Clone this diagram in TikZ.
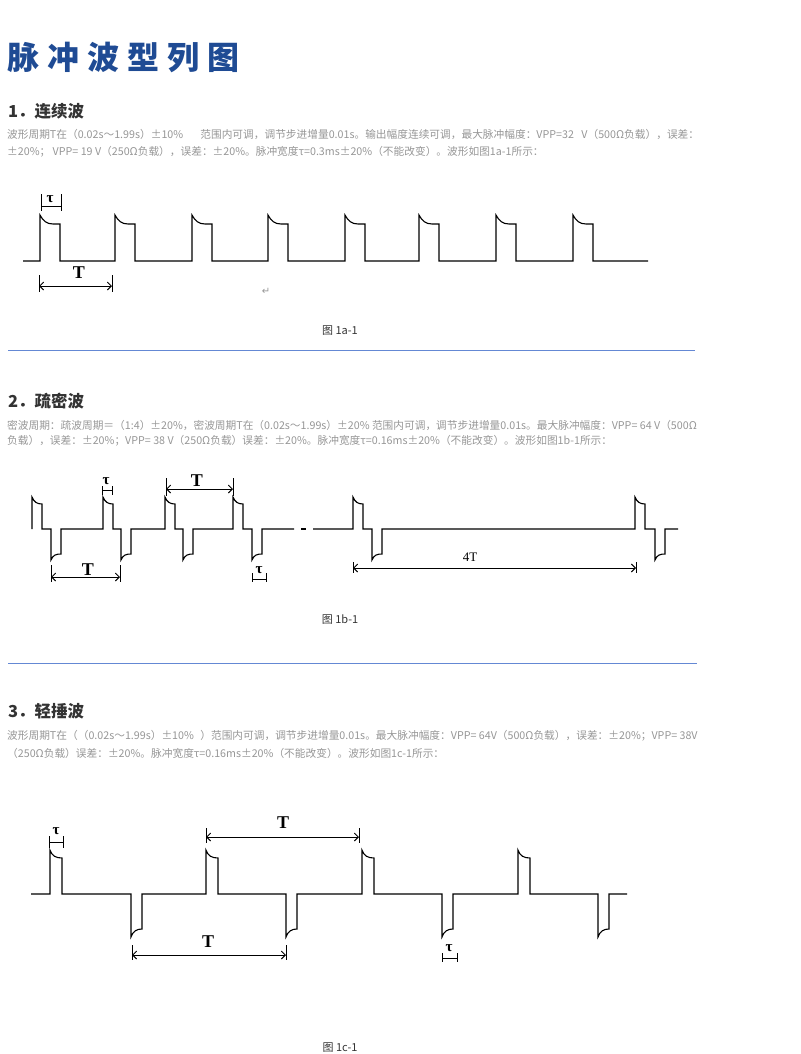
\documentclass[tikz,border=0pt]{standalone}
\usepackage{fontspec}
\usepackage{xcolor}
\usetikzlibrary{arrows.meta,positioning}
\newfontfamily\cjk{Noto Sans CJK SC}
\newfontfamily\tnr{Liberation Serif}
\newfontfamily\symfont{DejaVu Sans}
\definecolor{titleblue}{RGB}{31,75,148}
\definecolor{headgray}{RGB}{51,51,51}
\definecolor{bodygray}{RGB}{150,150,150}
\definecolor{ruleblue}{RGB}{100,136,212}

\begin{document}
\begin{tikzpicture}[
  x=1pt, y=-1pt,
  wave/.style={line width=1.1pt, line join=miter},
  tick/.style={line width=0.9pt},
  dimline/.style={line width=0.9pt,
    {Straight Barb[length=4pt,width=8pt]}-{Straight Barb[length=4pt,width=8pt]}},
  tauline/.style={line width=0.9pt},
  body/.style={anchor=west, inner sep=0pt, text=bodygray,
    font=\cjk\fontsize{10.7}{13}\selectfont},
  heading/.style={anchor=west, inner sep=0pt, text=headgray,
    font=\cjk\bfseries\fontsize{16.5}{18}\selectfont},
  caption/.style={inner sep=0pt, text=headgray,
    font=\cjk\fontsize{11}{13}\selectfont},
  bigT/.style={inner sep=0pt, font=\tnr\bfseries\fontsize{18}{18}\selectfont},
  smallT/.style={inner sep=0pt, font=\tnr\fontsize{13}{13}\selectfont},
  taulabel/.style={inner sep=0pt, font=\tnr\bfseries\fontsize{15}{15}\selectfont},
  rule/.style={draw=ruleblue, line width=1pt},
]
\useasboundingbox (0,0) rectangle (800,1054);

% title
\node[anchor=west, inner sep=0pt, text=titleblue,
  font=\cjk\bfseries\fontsize{32}{35}\selectfont\addfontfeatures{LetterSpace=25}]
  (title) at (7,57) {脉冲波型列图};

% ---------- 1
\node[heading] (head1) at (8,111) {1．连续波};
\node[body] (par1a) at (7,134) {波形周期T在（0.02s～1.99s）±10\%\hspace{1.6em}范围内可调，调节步进增量0.01s。输出幅度连续可调，最大脉冲幅度：VPP=32\hspace{0.7em}V（500Ω负载），误差：};
\node[body] (par1b) at (7,152) {±20\%；\ VPP=\ 19 V（250Ω负载），误差：±20\%。脉冲宽度τ=0.3ms±20\%（不能改变）。波形如图1a-1所示：};

\draw[wave] (23,261)
  foreach \p in {40,115,192,268,345,419,496,573} {
    -- (\p,261) -- (\p,215) .. controls (\p+3,221) and (\p+7,224) .. (\p+13,224)
    -- (\p+20,224) -- (\p+20,261)
  } -- (648,261);

\coordinate (tauA1) at (41,206);
\coordinate (tauB1) at (61,206);
\draw[tick] (tauA1) ++(0,-12) -- ++(0,17) (tauB1) ++(0,-12) -- ++(0,17);
\draw[tauline] (tauA1) -- (tauB1);
\node[taulabel] (tau1) at (50,199) {τ};

\coordinate (TA1) at (39,286);
\coordinate (TB1) at (112,286);
\draw[tick] (TA1) ++(0,-11) -- ++(0,17) (TB1) ++(0,-11) -- ++(0,17);
\draw[dimline] (TA1) -- (TB1);
\node[bigT] (T1) at (79,273) {T};

\node[inner sep=0pt, text=bodygray, font=\symfont\fontsize{10}{10}\selectfont]
  (ret1) at (266,291) {↵};
\node[caption] (cap1) at (340,331) {图 1a-1};

\draw[rule] (8,350.5) -- (695,350.5);

% ---------- 2
\node[heading] (head2) at (8,401) {2．疏密波};
\node[body] (par2a) at (7,425) {密波周期：疏波周期＝（1:4）±20\%，密波周期T在（0.02s～1.99s）±20\%\ 范围内可调，调节步进增量0.01s。最大脉冲幅度：VPP=\ 64\ V（500Ω};
\node[body] (par2b) at (7,441) {负载），误差：±20\%；VPP=\ 38 V（250Ω负载）误差：±20\%。脉冲宽度τ=0.16ms±20\%（不能改变）。波形如图1b-1所示：};

\draw[wave] (32,529)
  foreach \p/\n in {32/51,103/121,165/183,233/252} {
    -- (\p,529) -- (\p,497) .. controls (\p+2,502) and (\p+5,504) .. (\p+10,504)
    -- (\p+10,529) -- (\n,529) -- (\n,560)
    .. controls (\n+2,555) and (\n+5,554) .. (\n+10,554) -- (\n+10,529)
  } -- (294,529);
\draw[wave] (301,529) -- (306,529);
\draw[wave] (313,529)
  foreach \p/\n in {353/372,635/655} {
    -- (\p,529) -- (\p,497) .. controls (\p+2,502) and (\p+5,504) .. (\p+10,504)
    -- (\p+10,529) -- (\n,529) -- (\n,560)
    .. controls (\n+2,555) and (\n+5,554) .. (\n+10,554) -- (\n+10,529)
  } -- (678,529);

\coordinate (tauA2) at (102,490);
\coordinate (tauB2) at (112,490);
\draw[tick] (tauA2) ++(0,-4) -- ++(0,9) (tauB2) ++(0,-4) -- ++(0,9);
\draw[tauline] (tauA2) -- (tauB2);
\node[taulabel] (tau2) at (106,481) {τ};

\coordinate (TA2) at (166,489);
\coordinate (TB2) at (233,489);
\draw[tick] (TA2) ++(0,-11) -- ++(0,18) (TB2) ++(0,-11) -- ++(0,18);
\draw[dimline] (TA2) -- (TB2);
\node[bigT] (T2) at (197,481) {T};

\coordinate (TA3) at (51,577);
\coordinate (TB3) at (120,577);
\draw[tick] (TA3) ++(0,-12) -- ++(0,17) (TB3) ++(0,-12) -- ++(0,17);
\draw[dimline] (TA3) -- (TB3);
\node[bigT] (T3) at (88,570) {T};

\coordinate (tauA3) at (252,579);
\coordinate (tauB3) at (266,579);
\draw[tick] (tauA3) ++(0,-6) -- ++(0,9) (tauB3) ++(0,-6) -- ++(0,9);
\draw[tauline] (tauA3) -- (tauB3);
\node[taulabel] (tau3) at (259,570) {τ};

\coordinate (FA) at (353,568);
\coordinate (FB) at (636,568);
\draw[tick] (FA) ++(0,-6) -- ++(0,11) (FB) ++(0,-6) -- ++(0,11);
\draw[dimline] (FA) -- (FB);
\node[smallT] (T4) at (470,557) {4T};

\node[caption] (cap2) at (340,620) {图 1b-1};

\draw[rule] (8,663.5) -- (697,663.5);

% ---------- 3
\node[heading] (head3) at (8,711) {3．轻捶波};
\node[body] (par3a) at (7,736) {波形周期T在（（0.02s～1.99s）±10\%\hspace{0.6em}）范围内可调，调节步进增量0.01s。最大脉冲幅度：VPP=\ 64V（500Ω负载），误差：±20\%；VPP=\ 38V};
\node[body] (par3b) at (7,753) {（250Ω负载）误差：±20\%。脉冲宽度τ=0.16ms±20\%（不能改变）。波形如图1c-1所示：};

\draw[wave] (31,894)
  foreach \p/\n in {50/131,206/286,362/442,518/598} {
    -- (\p,894) -- (\p,850) .. controls (\p+2,856) and (\p+6,858) .. (\p+12,858)
    -- (\p+12,894) -- (\n,894) -- (\n,937)
    .. controls (\n+2,931) and (\n+6,929) .. (\n+11,929) -- (\n+11,894)
  } -- (627,894);

\coordinate (tauA4) at (49,842);
\coordinate (tauB4) at (63,842);
\draw[tick] (tauA4) ++(0,-6) -- ++(0,12) (tauB4) ++(0,-6) -- ++(0,12);
\draw[tauline] (tauA4) -- (tauB4);
\node[taulabel] (tau4) at (56,831) {τ};

\coordinate (TA5) at (206,837);
\coordinate (TB5) at (359,837);
\draw[tick] (TA5) ++(0,-9) -- ++(0,15) (TB5) ++(0,-9) -- ++(0,15);
\draw[dimline] (TA5) -- (TB5);
\node[bigT] (T5) at (283,823) {T};

\coordinate (TA6) at (132,955);
\coordinate (TB6) at (286,955);
\draw[tick] (TA6) ++(0,-10) -- ++(0,15) (TB6) ++(0,-10) -- ++(0,15);
\draw[dimline] (TA6) -- (TB6);
\node[bigT] (T6) at (208,942) {T};

\coordinate (tauA5) at (442,958);
\coordinate (tauB5) at (457,958);
\draw[tick] (tauA5) ++(0,-5) -- ++(0,9) (tauB5) ++(0,-5) -- ++(0,9);
\draw[tauline] (tauA5) -- (tauB5);
\node[taulabel] (tau5) at (449,948) {τ};

\node[caption] (cap3) at (340,1048) {图 1c-1};
\end{tikzpicture}
\end{document}
